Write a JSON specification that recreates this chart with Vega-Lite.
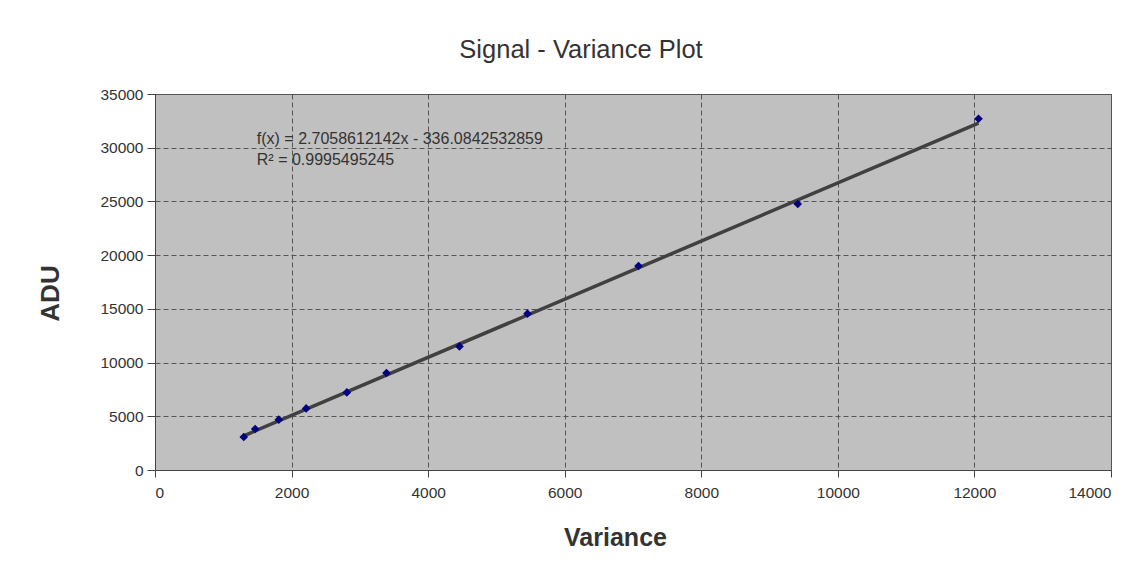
{
  "$schema": "https://vega.github.io/schema/vega-lite/v6.json",
  "autosize": {"type": "none"},
  "width": 956,
  "height": 376,
  "padding": {"left": 155, "top": 94, "right": 35, "bottom": 105},
  "background": "white",
  "title": {
    "text": "Signal - Variance Plot",
    "font": "Liberation Sans",
    "fontSize": 25.5,
    "fontWeight": "normal",
    "color": "#333333",
    "anchor": "middle",
    "frame": "group",
    "baseline": "alphabetic",
    "offset": 4,
    "dx": -52
  },
  "config": {
    "view": {"fill": "#c0c0c0", "stroke": "#555555", "strokeWidth": 1},
    "axis": {
      "labelFont": "Liberation Sans",
      "labelFontSize": 15.5,
      "labelColor": "#333333",
      "titleFont": "Liberation Sans",
      "titleFontWeight": "bold",
      "titleColor": "#333333",
      "domainColor": "#444444",
      "tickColor": "#444444",
      "gridColor": "#555555",
      "gridDash": [5, 3],
      "gridWidth": 1
    }
  },
  "datasets": {
    "points": [
      {"variance": 1300, "adu": 3072},
      {"variance": 1467, "adu": 3816},
      {"variance": 1813, "adu": 4682},
      {"variance": 2214, "adu": 5734},
      {"variance": 2809, "adu": 7223},
      {"variance": 3390, "adu": 9029},
      {"variance": 4459, "adu": 11505},
      {"variance": 5455, "adu": 14549},
      {"variance": 7081, "adu": 18989},
      {"variance": 9413, "adu": 24760},
      {"variance": 12060, "adu": 32700}
    ],
    "trend": [
      {"variance": 1300, "adu": 3181.5},
      {"variance": 12060, "adu": 32296.6}
    ],
    "labels": [
      {"variance": 1491, "adu": 30811, "label": "f(x) = 2.7058612142x - 336.0842532859"},
      {"variance": 1491, "adu": 28884, "label": "R² = 0.9995495245"}
    ]
  },
  "layer": [
    {
      "data": {"name": "trend"},
      "mark": {"type": "line", "color": "#404040", "strokeWidth": 3.5},
      "encoding": {
        "x": {
          "field": "variance", "type": "quantitative",
          "scale": {"domain": [0, 14000], "nice": false, "zero": false},
          "axis": {
            "title": "Variance",
            "titleFontSize": 25,
            "titleX": 460,
            "titleY": 67,
            "titleBaseline": "middle",
            "titleAlign": "center",
            "values": [0, 2000, 4000, 6000, 8000, 10000, 12000, 14000],
            "format": "d",
            "tickSize": 7,
            "labelPadding": 8,
            "grid": true
          }
        },
        "y": {
          "field": "adu", "type": "quantitative",
          "scale": {"domain": [0, 35000], "nice": false, "zero": false},
          "axis": {
            "title": "ADU",
            "titleFontSize": 26,
            "titleX": -105,
            "titleY": 199,
            "titleAngle": -90,
            "titleBaseline": "middle",
            "titleAlign": "center",
            "values": [0, 5000, 10000, 15000, 20000, 25000, 30000, 35000],
            "format": "d",
            "tickSize": 8,
            "labelPadding": 4,
            "grid": true
          }
        }
      }
    },
    {
      "data": {"name": "points"},
      "mark": {"type": "point", "shape": "diamond", "filled": true, "color": "#000080", "size": 75, "opacity": 1},
      "encoding": {
        "x": {"field": "variance", "type": "quantitative"},
        "y": {"field": "adu", "type": "quantitative"}
      }
    },
    {
      "data": {"name": "labels"},
      "mark": {"type": "text", "align": "left", "baseline": "middle", "font": "Liberation Sans", "fontSize": 16, "color": "#333333"},
      "encoding": {
        "x": {"field": "variance", "type": "quantitative"},
        "y": {"field": "adu", "type": "quantitative"},
        "text": {"field": "label"}
      }
    }
  ]
}
